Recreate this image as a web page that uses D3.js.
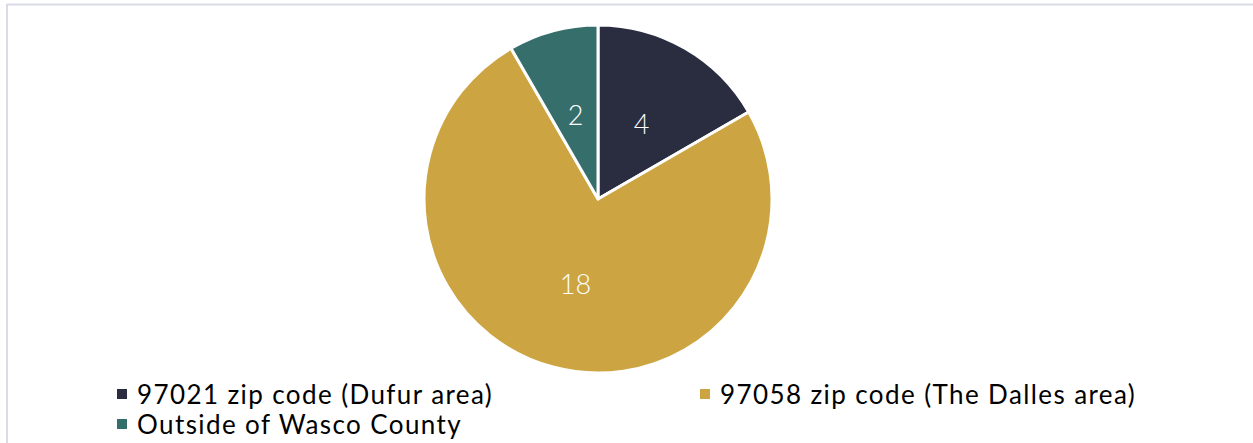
<!DOCTYPE html>
<html>
<head>
<meta charset="utf-8">
<script src="https://cdn.jsdelivr.net/npm/d3@7"></script>
<style>
  html, body { margin: 0; padding: 0; background: #fff; }
  svg { display: block; }
</style>
</head>
<body>
<svg id="chart" width="1253" height="443"></svg>
<script>
// Respondents by zip code
const categories = ["97021 zip code (Dufur area)", "97058 zip code (The Dalles area)", "Outside of Wasco County"];
const counts = [4, 18, 2];
const colors = ["#2a2d3f", "#cca542", "#366e6c"];

const W = 1253, H = 443;
const svg = d3.select("#chart");

// outer frame (top and left edges visible)
svg.append("line").attr("x1", 7).attr("y1", 4.5).attr("x2", W).attr("y2", 4.5)
  .attr("stroke", "#dadbe7").attr("stroke-width", 2);
svg.append("line").attr("x1", 7).attr("y1", 4).attr("x2", 7).attr("y2", H)
  .attr("stroke", "#dadbe7").attr("stroke-width", 2);

const cx = 598, cy = 199, r = 174;
const data = categories.map((c, i) => ({ name: c, value: counts[i], color: colors[i] }));

const pie = d3.pie().value(d => d.value).sort(null);
const arc = d3.arc().innerRadius(0).outerRadius(r);
const arcs = pie(data);

const g = svg.append("g").attr("transform", `translate(${cx},${cy})`);
g.selectAll("path").data(arcs).join("path")
  .attr("d", arc)
  .attr("fill", d => d.data.color)
  .attr("stroke", "#fff")
  .attr("stroke-width", 3)
  .attr("stroke-linejoin", "round");

g.selectAll("text").data(arcs).join("text")
  .attr("transform", d => { const [x, y] = arc.centroid(d); return `translate(${x},${y})`; })
  .attr("text-anchor", "middle")
  .attr("dominant-baseline", "central")
  .attr("fill", "#fff")
  .attr("font-family", "Lato, 'Open Sans', sans-serif")
  .attr("font-weight", 300)
  .attr("font-size", 27)
  .text(d => d.data.value);

// legend
const legendPos = [[117, 394], [700, 394], [117, 424]];
const lg = svg.append("g");
data.forEach((d, i) => {
  const [x, y] = legendPos[i];
  lg.append("rect").attr("x", x).attr("y", y - 5).attr("width", 10).attr("height", 10).attr("fill", d.color);
  lg.append("text").attr("x", x + 20).attr("y", y)
    .attr("dominant-baseline", "central")
    .attr("fill", "#000")
    .attr("font-family", "Lato, 'Open Sans', sans-serif")
    .attr("font-size", 26)
    .attr("letter-spacing", 1.4)
    .text(d.name);
});
</script>
</body>
</html>
